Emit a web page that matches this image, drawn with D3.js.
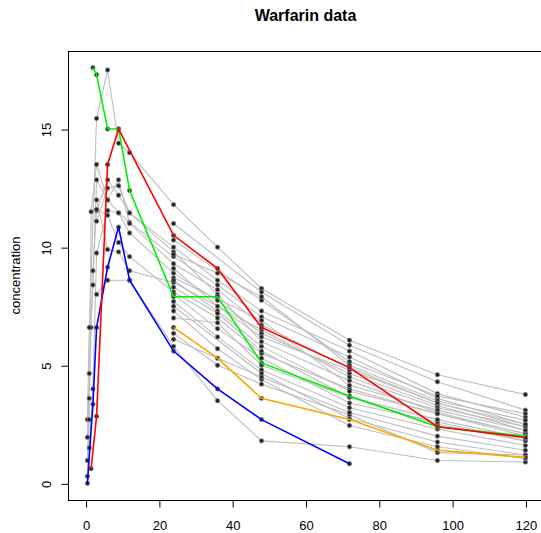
<!DOCTYPE html>
<html>
<head>
<meta charset="utf-8">
<script src="https://cdn.jsdelivr.net/npm/d3@7"></script>
<style>
  html, body { margin: 0; padding: 0; background: #ffffff; }
  svg { display: block; }
  text { font-family: "Liberation Sans", Arial, sans-serif; }
</style>
</head>
<body>
<div id="chart"></div>
<script>
// ---------------- data ----------------
const chartTitle = "Warfarin data";
const yLabel = "concentration";
const xTicks = [0, 20, 40, 60, 80, 100, 120];
const yTicks = [0, 5, 10, 15];

const subjectIds = [
  "G1","G2","G3","G4","G5","G6","G7","G8","G9","G10","G11","G12","G13",
  "G14","G15","G16","G17","G18","G19","G20","G21","G22","G23",
  "orange","blue","green","red"
];

const subjectTimes = [
  [0.5,1,1.5,2,3,6,9,12,24,36,48,72,96,120],
  [0.5,1,2,3,6,9,12,24,36,48,72,96,120],
  [0.5,1,3,6,9,12,24,36,48,72,96,120],
  [0.5,1,1.5,3,6,9,12,24,36,48,72,96,120],
  [1,2,3,6,9,12,24,36,48,72,96,120],
  [3,6,12,24,36,48,72,96,120],
  [3,6,9,12,24,36,48,72,96,120],
  [3,6,9,12,24,48,72,96,120],
  [3,6,9,12,24,36,48,72,96,120],
  [24,48,72,96,120],
  [24,48,72,96,120],
  [24,36,48,72,96,120],
  [24,36,48,72,96,120],
  [24,48,72,96,120],
  [24,36,48,72,96,120],
  [24,36,48,72,96,120],
  [24,36,48,72,96,120],
  [24,36,48,72,96,120],
  [24,48,72,96,120],
  [24,36,48,72,96,120],
  [24,36,48,72,96,120],
  [24,36,48,72,96,120],
  [24,48,72,96,120],
  [24,36,48,72,96,120],
  [0.5,2,3,6,9,12,24,36,48,72],
  [2,3,6,9,12,24,36,48,72,96,120],
  [1.5,3,6,9,24,36,48,72,96,120]
];

const subjectConc = [
  [0.97,3.6,6.6,8.4,12.85,12.0,11.45,11.05,9.6,8.4,7.05,5.35,3.6,2.5],
  [1.95,4.65,9.0,11.55,12.85,12.2,11.45,10.0,8.6,7.3,5.6,3.8,2.8],
  [2.7,6.6,15.45,17.5,14.4,14.0,11.8,10.0,8.25,6.06,4.6,3.76],
  [0.3,2.7,11.5,13.5,12.0,12.85,11.0,9.3,8.2,6.7,4.9,3.4,2.4],
  [1.5,4.0,9.75,11.55,11.45,10.6,8.9,7.75,6.35,4.65,3.3,2.25],
  [8.0,8.6,8.6,5.8,3.5,1.8,1.55,0.97,0.9],
  [11.1,12.5,12.6,11.45,9.8,8.0,6.0,4.35,3.0,2.1],
  [12.0,9.9,9.8,9.0,8.5,6.5,4.5,3.2,2.4],
  [11.6,11.35,10.2,9.6,8.1,7.0,5.5,4.0,2.95,2.1],
  [11.0,8.1,5.85,4.3,3.1],
  [10.3,7.75,5.15,3.7,2.95],
  [9.7,8.9,7.9,5.0,3.5,2.67],
  [9.1,7.5,6.2,4.8,3.4,2.5],
  [8.7,6.9,4.15,3.1,2.25],
  [8.6,7.3,5.8,3.9,2.95,2.0],
  [8.3,7.2,5.6,3.65,2.5,1.8],
  [8.0,6.55,5.3,3.4,2.6,1.8],
  [7.7,6.2,4.8,3.2,2.3,1.6],
  [7.5,4.65,2.75,1.75,1.2],
  [7.3,5.7,4.4,2.45,1.55,1.05],
  [7.0,6.8,5.0,3.65,2.7,1.9],
  [6.35,5.0,4.2,2.9,1.3,1.2],
  [6.1,4.5,3.0,2.0,1.4],
  [6.6,5.3,3.6,2.7,1.4,1.1],
  [0,3.35,6.6,9.15,10.85,8.6,5.6,4.0,2.7,0.83],
  [17.6,17.3,15.0,15.0,12.4,7.9,7.9,5.1,3.7,2.4,2.0],
  [0.62,2.84,13.5,15.0,10.5,9.1,6.6,4.9,2.4,1.94]
];

// ---------------- styling ----------------
const W = 541, H = 533;
const box = { left: 68, right: 543, top: 51, bottom: 500 };
const highlightColor = { orange: "#ffa500", blue: "#0000ff", green: "#00ee00", red: "#ff0000" };

const subjects = subjectIds.map((id, i) => ({
  id,
  pts: subjectTimes[i].map((t, j) => ({ t, c: subjectConc[i][j] }))
}));

const x = d3.scaleLinear().domain([-4.8, 124.8]).range([box.left, box.right]);
const y = d3.scaleLinear().domain([-0.704, 18.304]).range([box.bottom, box.top]);

const svg = d3.select("#chart").append("svg")
  .attr("width", W).attr("height", H);

svg.append("rect").attr("width", W).attr("height", H).attr("fill", "#fff");

const line = d3.line().x(d => x(d.t)).y(d => y(d.c));

const grey = subjects.filter(s => !highlightColor[s.id]);
const hi = subjects.filter(s => highlightColor[s.id]);

// grey lines
svg.append("g").selectAll("path").data(grey).join("path")
  .attr("d", s => line(s.pts))
  .attr("fill", "none")
  .attr("stroke", "#bebebe")
  .attr("stroke-width", 1.1);

// points
svg.append("g").selectAll("circle")
  .data(subjects.flatMap(s => s.pts))
  .join("circle")
  .attr("cx", d => x(d.t)).attr("cy", d => y(d.c))
  .attr("r", 2.2)
  .attr("fill", "#222")
  .attr("stroke", "#8a8a8a")
  .attr("stroke-width", 0.8);

// highlighted lines
svg.append("g").selectAll("path").data(hi).join("path")
  .attr("d", s => line(s.pts))
  .attr("fill", "none")
  .attr("stroke", s => highlightColor[s.id])
  .attr("stroke-width", 1.6);

// box
svg.append("rect")
  .attr("x", box.left + 0.5).attr("y", box.top + 0.5)
  .attr("width", box.right - box.left).attr("height", box.bottom - box.top)
  .attr("fill", "none").attr("stroke", "#000").attr("stroke-width", 1);

// x axis
const gx = svg.append("g")
  .attr("transform", `translate(0.5,${box.bottom + 0.5})`)
  .call(d3.axisBottom(x).tickValues(xTicks).tickSize(7).tickPadding(13).tickSizeOuter(0));
gx.select(".domain").remove();
gx.selectAll("line").attr("stroke", "#000");
gx.selectAll("text").attr("font-size", 13).attr("fill", "#000")
  .attr("font-family", "'Liberation Sans', Arial, sans-serif");

// y axis
const gy = svg.append("g")
  .attr("transform", `translate(${box.left + 0.5},0.5)`)
  .call(d3.axisLeft(y).tickValues(yTicks).tickSize(7).tickSizeOuter(0));
gy.select(".domain").remove();
gy.selectAll("line").attr("stroke", "#000");
gy.selectAll("text")
  .attr("x", 0).attr("y", 0).attr("dy", 0)
  .attr("text-anchor", "middle")
  .attr("transform", "translate(-18,0) rotate(-90)")
  .attr("font-size", 13).attr("fill", "#000")
  .attr("font-family", "'Liberation Sans', Arial, sans-serif");

// title
svg.append("text")
  .attr("x", (box.left + box.right) / 2).attr("y", 21)
  .attr("text-anchor", "middle")
  .attr("font-size", 16).attr("font-weight", "bold")
  .text(chartTitle);

// y label
svg.append("text")
  .attr("transform", `translate(19.5,${(box.top + box.bottom) / 2}) rotate(-90)`)
  .attr("text-anchor", "middle")
  .attr("font-size", 13)
  .text(yLabel);
</script>
</body>
</html>
